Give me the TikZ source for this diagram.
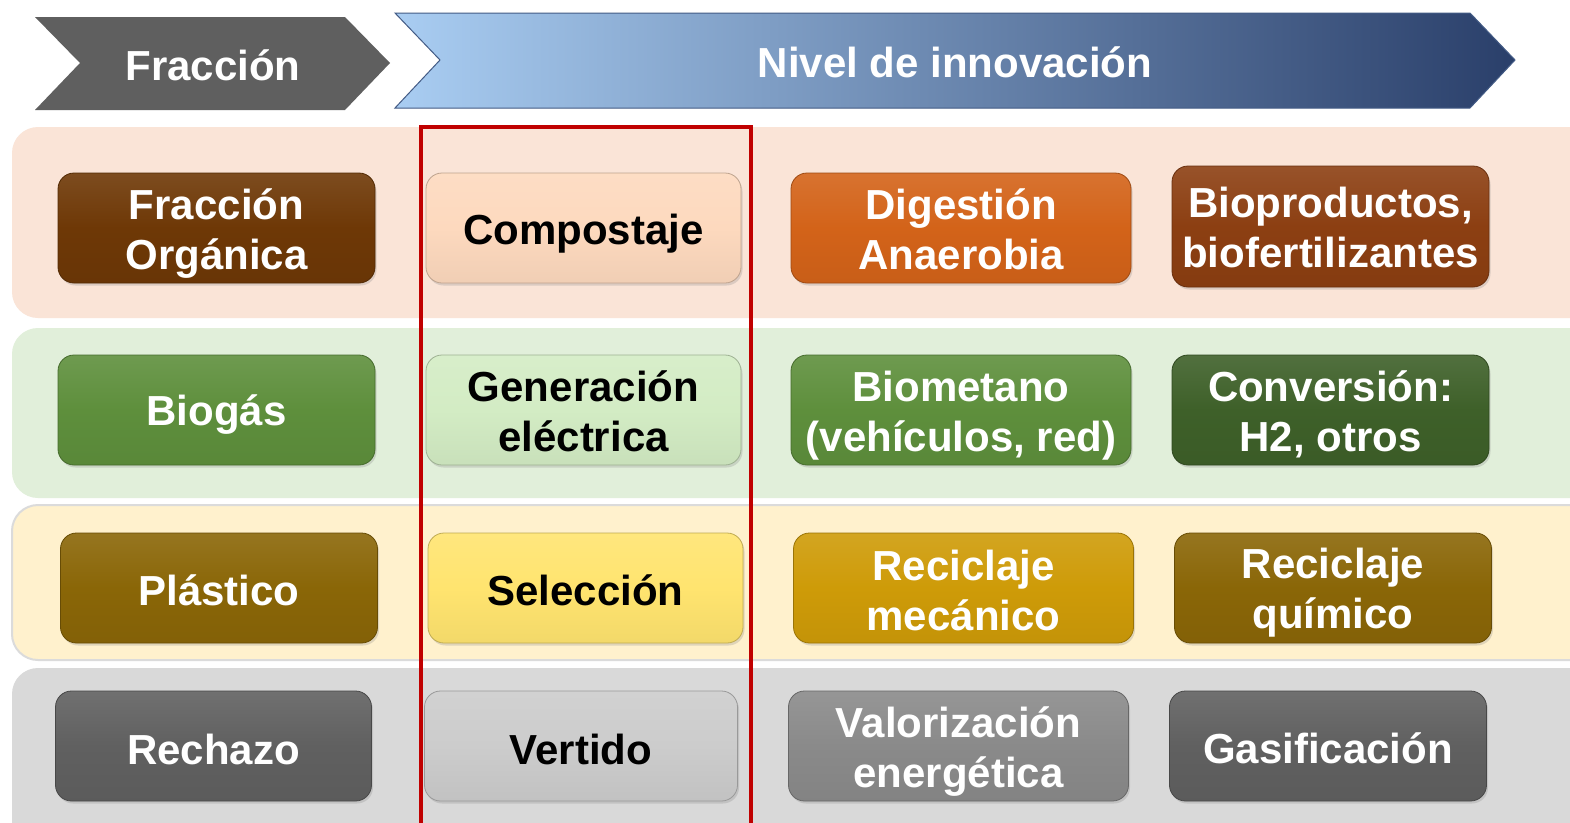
\documentclass[tikz,border=0pt]{standalone}
\usepackage{fontspec}
\setmainfont{Liberation Sans}
\usetikzlibrary{shadows}
\definecolor{hdrgray}{HTML}{5F5F5F}
\definecolor{blueL}{HTML}{A9CDF2}
\definecolor{blueD}{HTML}{2A3F6A}
\definecolor{bandA}{HTML}{FAE4D7}
\definecolor{bandB}{HTML}{E1EFDA}
\definecolor{bandC}{HTML}{FFF1CD}
\definecolor{bandD}{HTML}{D9D9D9}
\definecolor{redbox}{HTML}{C00000}
\definecolor{cFO}{HTML}{6E3806}
\definecolor{cComp}{HTML}{FDD9BE}
\definecolor{cDig}{HTML}{D36319}
\definecolor{cBiop}{HTML}{8C3F12}
\definecolor{cBiog}{HTML}{5E8F3C}
\definecolor{cGen}{HTML}{D3ECC4}
\definecolor{cConv}{HTML}{3E6029}
\definecolor{cPlas}{HTML}{8A6607}
\definecolor{cSel}{HTML}{FFE46F}
\definecolor{cRM}{HTML}{CE9B08}
\definecolor{cRech}{HTML}{606060}
\definecolor{cVert}{HTML}{CCCCCC}
\definecolor{cVal}{HTML}{8A8A8A}
\begin{document}
\begin{tikzpicture}[x=1pt,y=-1pt,
  txt/.style={font=\fontsize{42}{50}\selectfont\bfseries, align=center, inner sep=0pt},
  cell/.style n args={4}{rectangle, rounded corners=16pt, minimum height=110pt, inner sep=0pt,
    top color=#1!90!white, bottom color=#1!95!black, middle color=#1,
    draw=#1!75!black, line width=0.8pt,
    drop shadow={opacity=0.25, shadow xshift=1.5pt, shadow yshift=-2.5pt},
    label={[txt, text=#2, yshift=#4]center:{#3}}},
  band/.style={rounded corners=26pt}]
\useasboundingbox (0,0) rectangle (1570,822);
\clip (0,0) rectangle (1570,822);
\fill[white] (0,0) rectangle (1570,822);
% header chevrons
\fill[hdrgray] (35,17) -- (345,17) -- (390,63) -- (345,110) -- (35,110) -- (80,63) -- cycle;
\shade[left color=blueL, right color=blueD, draw=blueD!80!blueL, line width=1pt]
  (395,13) -- (1470,13) -- (1515,60) -- (1470,108) -- (395,108) -- (440,60) -- cycle;
\node[txt, text=white] (hfrac) at (213,65) {Fracción};
\node[txt, text=white] (hniv) at (955,62) {Nivel de innovación};
% bands
\fill[bandA, band] (12,127) rectangle (1600,318);
\fill[bandB, band] (12,328) rectangle (1600,498);
\fill[bandC, band, draw=black!14, line width=2pt] (12,505) rectangle (1600,660);
\fill[bandD, band] (12,668) rectangle (1600,860);
% cells row 1
\node[cell={cFO}{white}{Fracción\\Orgánica}{-6pt}, minimum width=317pt] (fo) at (216.5,228) {};
\node[cell={cComp}{black}{Compostaje}{-6pt}, minimum width=315pt] (comp) at (583.5,228) {};
\node[cell={cDig}{white}{Digestión\\Anaerobia}{-1pt}, minimum width=340pt] (dig) at (961,228) {};
\node[cell={cBiop}{white}{Bioproductos,\\biofertilizantes}{-1pt}, minimum width=317pt, minimum height=121pt] (biop) at (1330.5,226.5) {};
% row 2
\node[cell={cBiog}{white}{Biogás}{-5pt}, minimum width=317pt] (biog) at (216.5,410) {};
\node[cell={cGen}{black}{Generación\\eléctrica}{-1pt}, minimum width=315pt] (gen) at (583.5,410) {};
\node[cell={cBiog}{white}{Biometano\\(vehículos, red)}{-6pt}, minimum width=340pt] (biom) at (961,410) {};
\node[cell={cConv}{white}{Conversión:\\H2, otros}{-4pt}, minimum width=317pt] (conv) at (1330.5,410) {};
% row 3
\node[cell={cPlas}{white}{Plástico}{-2pt}, minimum width=317pt] (plas) at (219,588) {};
\node[cell={cSel}{black}{Selección}{-2pt}, minimum width=315pt] (sel) at (585.5,588) {};
\node[cell={cRM}{white}{Reciclaje\\mecánico}{-2pt}, minimum width=340pt] (rm) at (963.5,588) {};
\node[cell={cPlas}{white}{Reciclaje\\químico}{-5pt}, minimum width=317pt] (rq) at (1333,588) {};
% row 4
\node[cell={cRech}{white}{Rechazo}{-3pt}, minimum width=316pt] (rech) at (213.5,746) {};
\node[cell={cVert}{black}{Vertido}{-3pt}, minimum width=313pt] (vert) at (581,746) {};
\node[cell={cVal}{white}{Valorización\\energética}{-6pt}, minimum width=340pt] (val) at (958.5,746) {};
\node[cell={cRech}{white}{Gasificación}{-2pt}, minimum width=317pt] (gas) at (1328,746) {};
% red frame
\draw[redbox, line width=3.5pt] (421,840) -- (421,127) -- (751,127) -- (751,840);
\end{tikzpicture}
\end{document}
